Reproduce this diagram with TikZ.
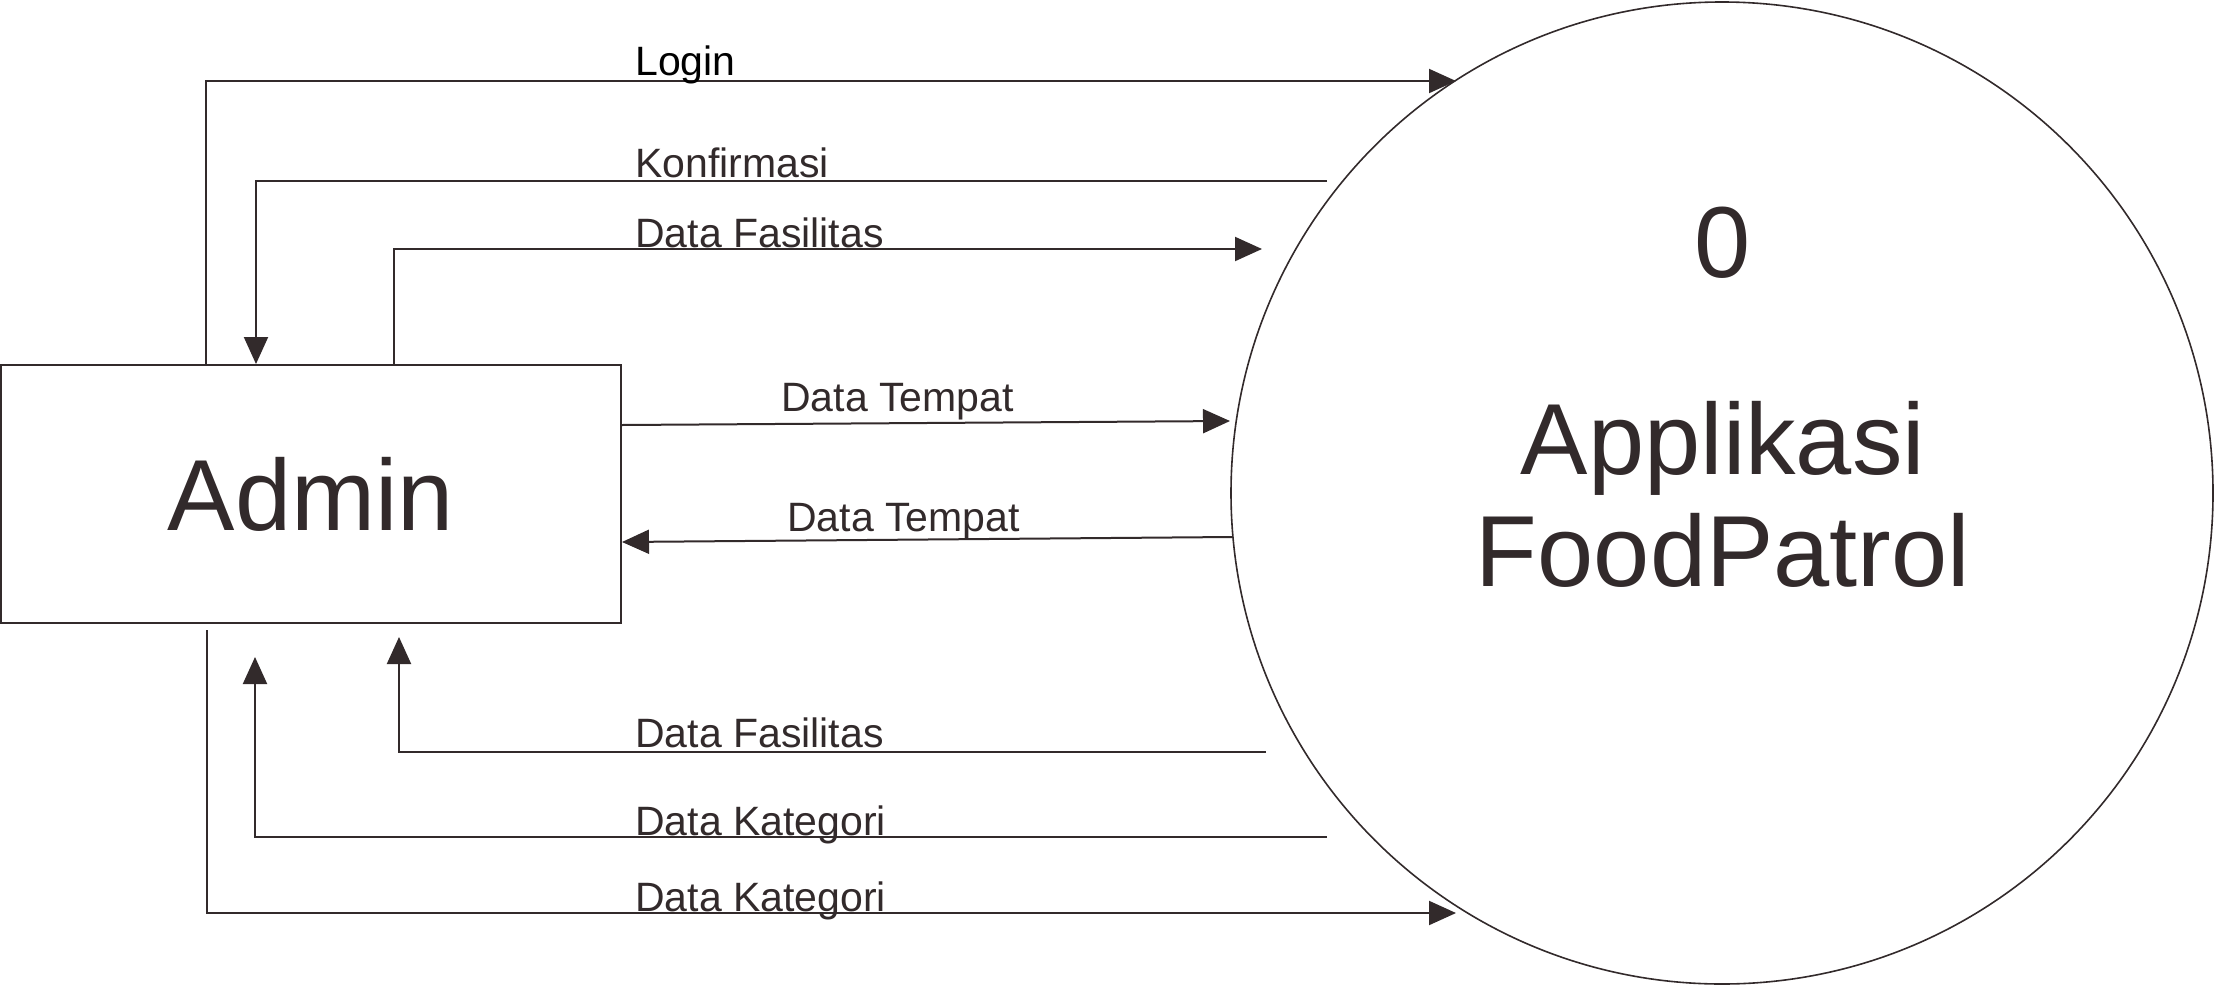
\documentclass[tikz,border=0pt]{standalone}
\usepackage{fontspec}
\setmainfont{Liberation Sans}
\usetikzlibrary{arrows.meta}
\definecolor{ink}{RGB}{50,42,43}
\tikzset{
  flow/.style={draw=ink, line width=2pt, -{Triangle[length=27pt,width=24pt]}},
  plain/.style={draw=ink, line width=2pt},
  lbl/.style={anchor=base west, inner sep=0pt, text=ink, font=\fontsize{41pt}{49pt}\selectfont},
  big/.style={anchor=base, inner sep=0pt, text=ink, font=\fontsize{101pt}{112pt}\selectfont},
  entity/.style={draw=ink, line width=2pt, rectangle, minimum width=620pt, minimum height=258pt, inner sep=0pt, text=ink, font=\fontsize{101pt}{112pt}\selectfont},
  process/.style={draw=ink, line width=1.6pt, circle, minimum size=982pt, inner sep=0pt}
}
\begin{document}
\begin{tikzpicture}[x=1pt,y=-1pt]
\useasboundingbox (0,0) rectangle (2216,988);
\node[entity] (admin) at (311,494) {Admin};
\node[process] (proc) at (1722,493) {};
\node[big] (num) at (1723,277) {0};
\node[big] (app) at (1723,474) {Applikasi};
\node[big] (fp) at (1723,586) {FoodPatrol};

\coordinate (loginEnd) at (1456,81);
\coordinate (konfStart) at (1327,181);
\coordinate (fasEnd) at (1262,249);
\coordinate (tmpEnd) at (1230,421);
\coordinate (tmpStart) at (1232,537);
\coordinate (fasStart) at (1266,752);
\coordinate (fasTip) at (399,637);
\coordinate (katStart) at (1327,837);
\coordinate (katTip) at (255,657);
\coordinate (katOutStart) at (207,630);
\coordinate (katEnd) at (1456,913);

\draw[flow] ([xshift=-105pt]admin.north) |- (loginEnd);
\draw[flow] (konfStart) -| ([xshift=-55pt]admin.north);
\draw[flow] ([xshift=83pt]admin.north) |- (fasEnd);
\draw[flow] ([yshift=69pt]admin.east) -- (tmpEnd);
\draw[flow] (tmpStart) -- ([yshift=-48pt]admin.east);
\draw[flow] (fasStart) -| (fasTip);
\draw[flow] (katStart) -| (katTip);
\draw[flow] (katOutStart) |- (katEnd);

\node[lbl, text=black] (tLogin) at (635,75) {Login};
\node[lbl] (tKonf) at (635,177) {Konfirmasi};
\node[lbl] (tFas1) at (635,247) {Data Fasilitas};
\node[lbl] (tTmp1) at (781,411) {Data Tempat};
\node[lbl] (tTmp2) at (787,531) {Data Tempat};
\node[lbl] (tFas2) at (635,747) {Data Fasilitas};
\node[lbl] (tKat1) at (635,835) {Data Kategori};
\node[lbl] (tKat2) at (635,911) {Data Kategori};
\end{tikzpicture}
\end{document}
